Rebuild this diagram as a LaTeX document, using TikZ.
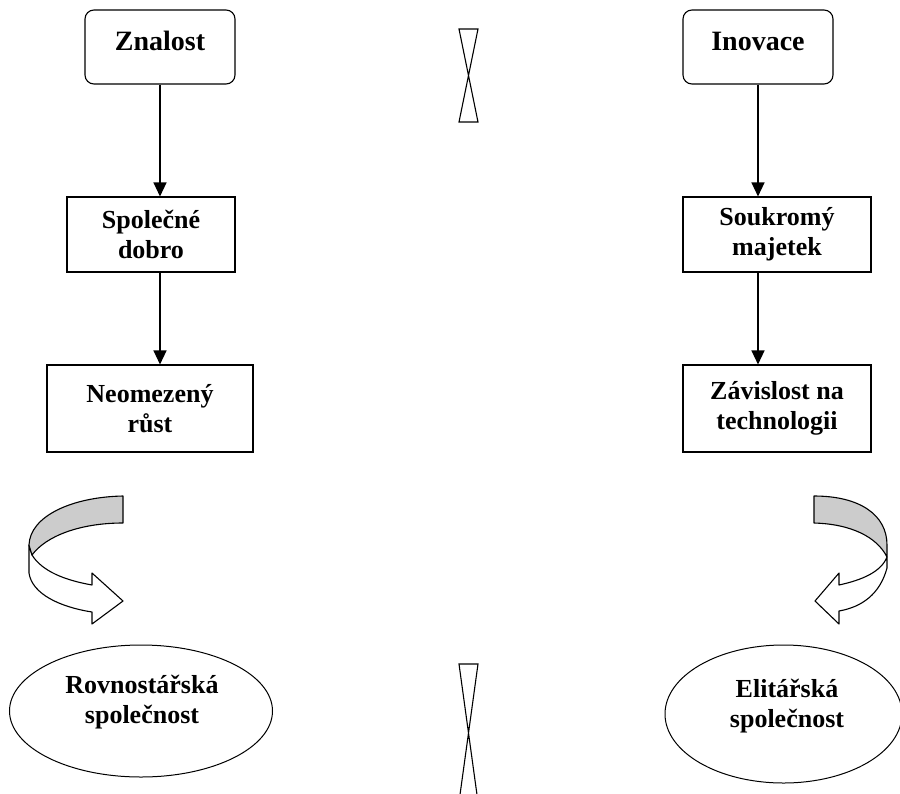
\documentclass[tikz,border=0pt]{standalone}
\usepackage{fontspec}
\setmainfont{Liberation Serif}
\usetikzlibrary{shapes.geometric,arrows.meta}
\definecolor{bandgray}{HTML}{CCCCCC}
\begin{document}
\begin{tikzpicture}[x=1pt,y=-1pt,
  txt/.style={align=center, font=\bfseries\fontsize{26}{30}\selectfont, inner sep=0pt},
  box/.style={txt, draw, line width=1.1pt},
  topbox/.style={draw, line width=1.1pt, rounded corners=9pt, font=\bfseries\fontsize{28}{32}\selectfont,
    inner sep=0pt, minimum width=150pt, text height=40pt, text depth=34pt},
  ell/.style={draw, ellipse, line width=1pt, inner sep=0pt},
  conn/.style={line width=1.3pt, -{Triangle[length=14pt,width=13pt]}},
  band/.style={line width=1.1pt, line join=round},
  glass/.style={line width=1.1pt, line join=miter}]
\useasboundingbox (0,0) rectangle (900,793);

% top boxes
\node[topbox] (znal) at (160,47) {Znalost};
\node[topbox] (inov) at (758,47) {Inovace};

% rectangles
\node[box, minimum width=168pt, minimum height=75pt] (spol) at (151,234.5) {Společné\\dobro};
\node[box, minimum width=206pt, minimum height=87pt] (neom) at (150,408.5) {Neomezený\\růst};
\node[box, minimum width=188pt, minimum height=75pt] (souk) at (777,234.5) {Soukromý\\majetek};
\node[box, minimum width=188pt, minimum height=87pt] (zavi) at (777,408.5) {Závislost na\\technologii};

% connectors
\draw[conn] (znal.south) -- (znal.south |- spol.north);
\draw[conn] (znal.south |- spol.south) -- (znal.south |- neom.north);
\draw[conn] (inov.south) -- (inov.south |- souk.north);
\draw[conn] (inov.south |- souk.south) -- (inov.south |- zavi.north);

% ellipses
\node[ell, minimum width=263pt, minimum height=132pt] (rovn) at (141,711) {};
\node[txt] (rovnt) at (142,702) {Rovnostářská\\společnost};
\node[ell, minimum width=237pt, minimum height=138pt] (elit) at (783.5,714) {};
\node[txt] (elitt) at (787,706) {Elitářská\\společnost};

% left curved arrow
\filldraw[band, fill=white] (29,545) -- (29,573) .. controls (32,594) and (60,607) .. (92,612)
  -- (92,624) -- (123,601) -- (92,573) -- (92,585)
  .. controls (64,580) and (42,571) .. (32,555) -- cycle;
\filldraw[band, fill=bandgray] (123,496) .. controls (72,497) and (30,516) .. (29,545)
  -- (32,555) .. controls (46,536) and (80,523) .. (123,523) -- cycle;

% right curved arrow
\filldraw[band, fill=white] (887,557) -- (887,568) .. controls (880,594) and (862,607) .. (839,611)
  -- (839,624) -- (815,601) -- (839,573) -- (839,585)
  .. controls (862,580) and (881,572) .. (887,557) -- cycle;
\filldraw[band, fill=bandgray] (814,496) .. controls (860,496) and (887,515) .. (887,545)
  -- (887,557) .. controls (877,537) and (851,524) .. (814,523) -- cycle;

% hourglass marks
\draw[glass] (459,29) -- (478,29) -- (459,122) -- (478,122) -- cycle;
\draw[glass] (478,802) -- (459,664) -- (478,664) -- (459,802);
\end{tikzpicture}
\end{document}
